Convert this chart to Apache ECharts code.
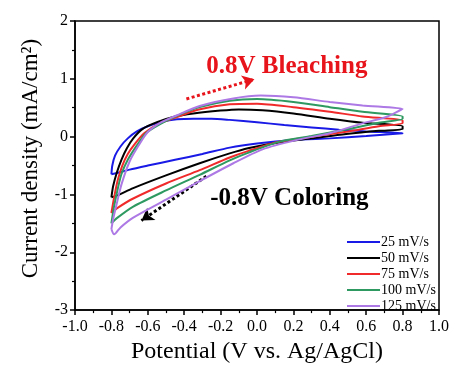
<!DOCTYPE html>
<html>
<head>
<meta charset="utf-8">
<script src="https://cdn.jsdelivr.net/npm/echarts@6/dist/echarts.min.js"></script>
<style>
html,body{margin:0;padding:0;background:#fff;}
#chart{width:452px;height:369px;}
</style>
</head>
<body>
<div id="chart"></div>
<script>
// Scan-rate labels
const seriesNames = ['25 mV/s', '50 mV/s', '75 mV/s', '100 mV/s', '125 mV/s'];
const seriesColors = ['#1a1ae6', '#000000', '#f02a2a', '#2e9a61', '#ad79e5'];

// CV loops: [potential (V), current density (mA/cm2)] — forward scan then reverse scan
const cv25 = [
  [-0.80,-0.65],[-0.795,-0.50],[-0.78,-0.33],[-0.75,-0.17],[-0.71,-0.03],[-0.66,0.09],[-0.60,0.18],
  [-0.52,0.26],[-0.44,0.30],[-0.35,0.31],[-0.25,0.31],[-0.15,0.29],[0.0,0.25],[0.15,0.20],
  [0.30,0.16],[0.45,0.12],[0.60,0.09],[0.80,0.06],
  [0.80,0.05],[0.60,0.01],[0.40,-0.03],[0.20,-0.06],[0.0,-0.12],[-0.15,-0.19],[-0.30,-0.30],
  [-0.45,-0.40],[-0.60,-0.50],[-0.70,-0.57],[-0.77,-0.63],[-0.80,-0.65]
];
const cv50 = [
  [-0.80,-1.05],[-0.79,-0.85],[-0.77,-0.62],[-0.745,-0.40],[-0.715,-0.20],[-0.68,-0.03],[-0.63,0.13],
  [-0.55,0.25],[-0.46,0.34],[-0.35,0.40],[-0.20,0.45],[-0.10,0.47],[0.03,0.455],[0.20,0.40],
  [0.40,0.31],[0.58,0.24],[0.80,0.18],
  [0.80,0.13],[0.67,0.10],[0.49,0.045],[0.30,-0.03],[0.12,-0.10],[-0.05,-0.20],[-0.15,-0.29],
  [-0.315,-0.46],[-0.50,-0.67],[-0.68,-0.89],[-0.77,-1.02],[-0.80,-1.05]
];
const cv75 = [
  [-0.80,-1.32],[-0.785,-1.05],[-0.765,-0.75],[-0.74,-0.50],[-0.71,-0.30],[-0.67,-0.12],[-0.62,0.06],
  [-0.54,0.22],[-0.44,0.34],[-0.32,0.47],[-0.15,0.56],[0.0,0.57],[0.20,0.51],[0.40,0.43],
  [0.58,0.35],[0.80,0.28],
  [0.80,0.23],[0.67,0.18],[0.49,0.085],[0.30,0.0],[0.12,-0.09],[-0.05,-0.25],[-0.15,-0.36],
  [-0.315,-0.58],[-0.50,-0.81],[-0.68,-1.07],[-0.77,-1.24],[-0.80,-1.32]
];
const cv100 = [
  [-0.80,-1.50],[-0.785,-1.20],[-0.765,-0.90],[-0.745,-0.65],[-0.71,-0.40],[-0.66,-0.15],[-0.61,0.06],
  [-0.53,0.22],[-0.44,0.36],[-0.315,0.51],[-0.15,0.62],[0.0,0.65],[0.20,0.60],[0.40,0.51],
  [0.58,0.43],[0.80,0.35],
  [0.80,0.31],[0.67,0.24],[0.49,0.125],[0.30,0.01],[0.12,-0.09],[-0.05,-0.28],[-0.15,-0.41],
  [-0.315,-0.66],[-0.50,-0.93],[-0.68,-1.21],[-0.77,-1.41],[-0.80,-1.50]
];
const cv125 = [
  [-0.80,-1.60],[-0.79,-1.42],[-0.77,-1.15],[-0.745,-0.83],[-0.70,-0.43],[-0.65,-0.15],[-0.60,0.08],
  [-0.525,0.25],[-0.44,0.37],[-0.315,0.53],[-0.13,0.66],[0.02,0.71],[0.20,0.68],[0.40,0.60],
  [0.58,0.54],[0.80,0.48],
  [0.80,0.47],[0.71,0.34],[0.58,0.23],[0.40,0.06],[0.215,-0.06],[0.03,-0.22],[-0.13,-0.46],
  [-0.315,-0.77],[-0.50,-1.09],[-0.68,-1.40],[-0.75,-1.57],[-0.785,-1.69],[-0.80,-1.60]
];
const cvData = [cv25, cv50, cv75, cv100, cv125];

// Annotations (data coordinates)
const annoTexts = ['0.8V Bleaching', '-0.8V Coloring'];
const annoPos = [[0.164, 1.21], [0.178, -1.07]];
const annoColors = ['#e8141b', '#000000'];
const arrowFrom = [[-0.388, 0.652], [-0.278, -0.684]];
const arrowTo = [[-0.014, 0.993], [-0.635, -1.452]];

// Axis settings
const xMin = -1.0, xMax = 1.0, xStep = 0.2;
const yMin = -3, yMax = 2, yStep = 1;

const FONT = '"Liberation Serif", "Times New Roman", serif';

const chart = echarts.init(document.getElementById('chart'), null, {renderer: 'canvas'});

const lineSeries = seriesNames.map((name, i) => ({
  name: name,
  type: 'line',
  data: cvData[i],
  showSymbol: false,
  symbol: 'none',
  smooth: 0.25,
  lineStyle: {color: seriesColors[i], width: 2},
  itemStyle: {color: seriesColors[i]},
  z: 2 + i
}));

const annoSeries = annoTexts.map((t, i) => ({
  name: 'anno' + i,
  type: 'scatter',
  data: [annoPos[i]],
  symbolSize: 0,
  silent: true,
  z: 10,
  itemStyle: {opacity: 1, color: annoColors[i]},
  label: {
    show: true,
    position: 'inside',
    formatter: t,
    color: annoColors[i],
    opacity: 1,
    textBorderWidth: 0,
    fontFamily: FONT,
    fontWeight: 'bold',
    fontSize: 25
  },
  markLine: {
    silent: true,
    symbol: ['none', 'arrow'],
    symbolSize: [11, 12],
    label: {show: false},
    emphasis: {disabled: true},
    itemStyle: {opacity: 1, color: annoColors[i]},
    lineStyle: {color: annoColors[i], width: 3, opacity: 1, type: [3, 2.5]},
    data: [[{coord: arrowFrom[i]}, {coord: arrowTo[i]}]]
  }
}));

chart.setOption({
  animation: false,
  backgroundColor: '#fff',
  grid: {left: 75, right: 12, top: 21, bottom: 55, show: true, borderColor: '#000', borderWidth: 1.5, backgroundColor: 'transparent'},
  legend: {
    data: seriesNames,
    orient: 'vertical',
    left: 342,
    top: 230,
    itemWidth: 33,
    itemHeight: 14,
    itemGap: 2,
    icon: 'path://M0,6 L33,6 L33,8 L0,8 Z',
    textStyle: {fontFamily: FONT, fontSize: 14, color: '#000', padding: [0, 0, 0, -4]},
    selectedMode: false
  },
  xAxis: {
    type: 'value',
    min: xMin, max: xMax, interval: xStep,
    name: 'Potential (V vs. Ag/AgCl)',
    nameLocation: 'middle',
    nameGap: 26,
    nameTextStyle: {fontFamily: FONT, fontSize: 24, color: '#000'},
    axisLine: {show: true, onZero: false, lineStyle: {color: '#000', width: 1.5}},
    axisTick: {show: true, inside: false, length: 5, lineStyle: {color: '#000', width: 1.5}},
    minorTick: {show: true, splitNumber: 2, length: 3, lineStyle: {color: '#000', width: 1.2}},
    splitLine: {show: false},
    axisLabel: {
      margin: 9, fontFamily: FONT, fontSize: 16, color: '#000',
      formatter: v => (Math.round(v * 10) / 10).toFixed(1)
    }
  },
  yAxis: {
    type: 'value',
    min: yMin, max: yMax, interval: yStep,
    name: 'Current density (mA/cm\u00B2)',
    nameLocation: 'middle',
    nameGap: 33,
    nameTextStyle: {fontFamily: FONT, fontSize: 23, color: '#000', padding: [0, 0, 0, 14]},
    axisLine: {show: true, onZero: false, lineStyle: {color: '#000', width: 1.5}},
    axisTick: {show: true, inside: false, length: 5, lineStyle: {color: '#000', width: 1.5}},
    minorTick: {show: true, splitNumber: 2, length: 3, lineStyle: {color: '#000', width: 1.2}},
    splitLine: {show: false},
    axisLabel: {
      margin: 7, fontFamily: FONT, fontSize: 16, color: '#000',
      formatter: v => String(Math.round(v))
    }
  },
  series: lineSeries.concat(annoSeries)
});
</script>
</body>
</html>
